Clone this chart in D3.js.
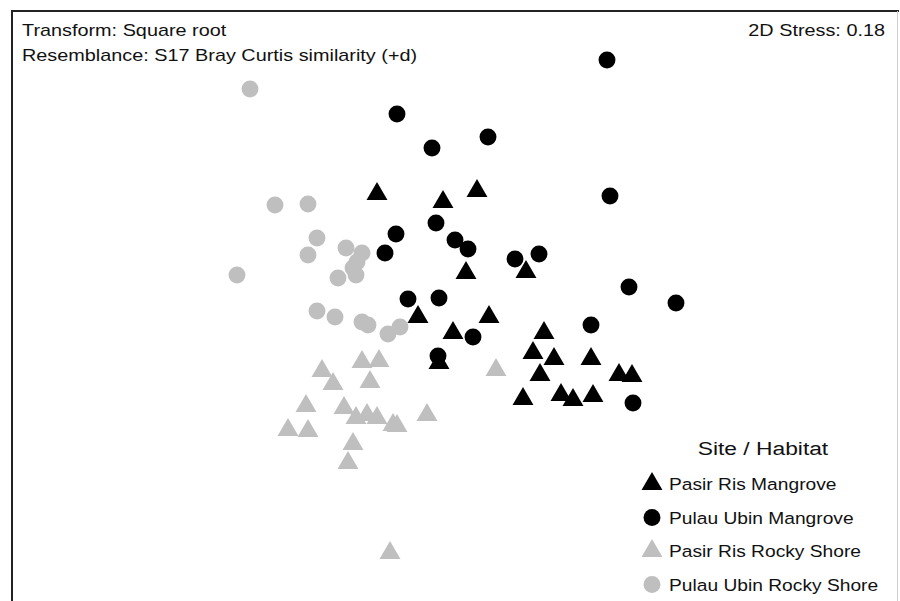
<!DOCTYPE html>
<html>
<head>
<meta charset="utf-8">
<script src="https://cdn.jsdelivr.net/npm/d3@7"></script>
<style>
  html, body { margin: 0; padding: 0; background: #fff; }
  svg { display: block; font-family: Arial, "Liberation Sans", sans-serif; }
</style>
</head>
<body>
<div id="chart"></div>
<script>
// nMDS ordination coordinates (arbitrary units)
const groups = ['Pasir Ris Mangrove', 'Pulau Ubin Mangrove', 'Pasir Ris Rocky Shore', 'Pulau Ubin Rocky Shore'];

const prMangroveX = [-0.73, -0.07, 0.27, 0.16, 0.76, -0.32, 0.03, 0.39, -0.11, 0.94, 0.83, 1.04, 1.41, 0.90, 1.69, 1.82, 0.73, 1.11, 1.23, 1.43];
const prMangroveY = [1.06, 0.98, 1.09, 0.27, 0.28, -0.17, -0.33, -0.17, -0.63, -0.33, -0.53, -0.59, -0.59, -0.75, -0.75, -0.76, -0.99, -0.95, -1.00, -0.96];

const puMangroveX = [1.57, -0.53, -0.18, 0.38, 1.60, -0.14, -0.54, -0.65, 0.05, 0.18, 0.65, 0.89, 1.79, 2.26, -0.42, -0.11, 0.23, 1.41, -0.12, 1.83];
const puMangroveY = [2.40, 1.86, 1.52, 1.63, 1.04, 0.77, 0.66, 0.47, 0.60, 0.51, 0.41, 0.46, 0.13, -0.03, 0.01, 0.02, -0.37, -0.25, -0.56, -1.03];

const prRockyX = [-0.88, -0.71, -1.28, -1.17, -0.80, -1.44, -1.06, -0.94, -0.83, -0.73, -0.57, -0.53, -0.23, -1.62, -1.42, -0.97, -1.02, 0.46, -0.60];
const prRockyY = [-0.62, -0.61, -0.71, -0.84, -0.82, -1.06, -1.08, -1.18, -1.15, -1.18, -1.25, -1.26, -1.15, -1.30, -1.31, -1.44, -1.63, -0.70, -2.53];

const puRockyX = [-2.00, -1.75, -1.42, -1.33, -1.42, -2.13, -1.04, -0.88, -0.93, -0.97, -0.94, -1.12, -1.33, -1.15, -0.88, -0.82, -0.62, -0.50];
const puRockyY = [2.11, 0.95, 0.96, 0.62, 0.45, 0.25, 0.52, 0.47, 0.38, 0.32, 0.25, 0.22, -0.11, -0.17, -0.22, -0.25, -0.34, -0.27];

const groupShapes = ['triangle', 'circle', 'triangle', 'circle'];
const groupColors = ['#000000', '#000000', '#bfbfbf', '#bfbfbf'];

const stressLabel = '2D Stress: 0.18';
const headerLines = ['Transform: Square root', 'Resemblance: S17 Bray Curtis similarity (+d)'];
const legendTitle = 'Site / Habitat';

const width = 900;
const height = 601;

const series = [
    [prMangroveX, prMangroveY],
    [puMangroveX, puMangroveY],
    [prRockyX, prRockyY],
    [puRockyX, puRockyY]
];

const points = [];
series.forEach(([xs, ys], g) => {
    xs.forEach((x, i) => points.push({ x: x, y: ys[i], group: g }));
});

const svg = d3.select('#chart')
    .append('svg')
    .attr('width', width)
    .attr('height', height);

// Scales (no axes drawn on an nMDS plot)
const x = d3.scaleLinear().domain([-4.5, 4.5]).range([0, width]);
const y = d3.scaleLinear().domain([3, -3.01]).range([0, height]);

// Frame
svg.append('line').attr('x1', 11).attr('x2', 899).attr('y1', 11).attr('y2', 11)
    .attr('stroke', '#222').attr('stroke-width', 2);
svg.append('line').attr('x1', 12).attr('x2', 12).attr('y1', 10).attr('y2', height)
    .attr('stroke', '#222').attr('stroke-width', 2);
svg.append('line').attr('x1', 897.5).attr('x2', 897.5).attr('y1', 11).attr('y2', height)
    .attr('stroke', '#cfcfcf').attr('stroke-width', 1);

const triPath = d3.symbol().type(d3.symbolTriangle).size(190)();
const circPath = d3.symbol().type(d3.symbolCircle).size(225)();

function shapePath(g) {
    return groupShapes[g] === 'triangle' ? triPath : circPath;
}

// Draw gray groups first, black on top
const drawOrder = [3, 2, 1, 0];
drawOrder.forEach(g => {
    svg.append('g')
        .selectAll('path')
        .data(points.filter(d => d.group === g))
        .enter()
        .append('path')
        .attr('d', shapePath(g))
        .attr('transform', d => `translate(${x(d.x)},${y(d.y)})`)
        .attr('fill', groupColors[g]);
});

// The source image is stretched horizontally, so text is widened a bit
function stretchedText(parent, tx, ty, sx, size, anchor, str) {
    return parent.append('text')
        .attr('transform', `translate(${tx},${ty}) scale(${sx},1)`)
        .attr('text-anchor', anchor)
        .style('font-size', size + 'px')
        .attr('fill', '#111')
        .text(str);
}

// Header text
headerLines.forEach((line, i) => {
    stretchedText(svg, 22, 36 + i * 24.5, 1.24, 16, 'start', line);
});
stretchedText(svg, 885, 36, 1.24, 16, 'end', stressLabel);

// Legend
const legend = svg.append('g');
stretchedText(legend, 763, 455, 1.2, 19, 'middle', legendTitle);

const item = legend.selectAll('.item')
    .data(groups)
    .enter()
    .append('g')
    .attr('class', 'item')
    .attr('transform', (d, i) => `translate(652,${484 + i * 33.5})`);

item.append('path')
    .attr('d', (d, i) => shapePath(i))
    .attr('fill', (d, i) => groupColors[i]);

item.each(function(d) {
    stretchedText(d3.select(this), 17, 6, 1.13, 17, 'start', d);
});
</script>
</body>
</html>
